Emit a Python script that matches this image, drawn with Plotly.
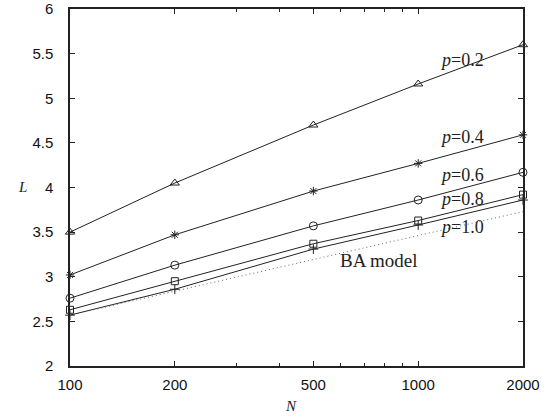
import plotly.graph_objects as go

N = [100, 200, 500, 1000, 2000]
L_p02 = [3.50, 4.05, 4.70, 5.16, 5.60]
L_p04 = [3.02, 3.47, 3.96, 4.27, 4.59]
L_p06 = [2.76, 3.13, 3.57, 3.86, 4.17]
L_p08 = [2.63, 2.95, 3.37, 3.63, 3.92]
L_p10 = [2.57, 2.86, 3.31, 3.58, 3.86]
L_BA = [2.57, 2.84, 3.19, 3.46, 3.73]

series = [
    ("p=0.2", L_p02, "triangle-up-open", 8),
    ("p=0.4", L_p04, "asterisk-open", 7),
    ("p=0.6", L_p06, "circle-open", 8),
    ("p=0.8", L_p08, "square-open", 7),
    ("p=1.0", L_p10, "cross-thin-open", 7),
]
label_y = [5.43, 4.57, 4.14, 3.87, 3.56]
x_ticks = [100, 200, 500, 1000, 2000]
y_ticks = [2, 2.5, 3, 3.5, 4, 4.5, 5, 5.5, 6]

fig = go.Figure()
for name, ys, sym, sz in series:
    fig.add_trace(go.Scatter(
        x=N, y=ys, mode="lines+markers", name=name,
        line=dict(color="#222", width=1),
        marker=dict(symbol=sym, size=sz, color="#222", line=dict(width=1, color="#222")),
        cliponaxis=False, showlegend=False))
fig.add_trace(go.Scatter(
    x=N, y=L_BA, mode="lines", name="BA model",
    line=dict(color="#666", width=1, dash="1px,3px"), showlegend=False))

serif = "Liberation Serif, Times New Roman, serif"
for (name, ys, sym, sz), ly in zip(series, label_y):
    fig.add_annotation(x=3.056, y=ly, xref="x", yref="y",
                       text="<i>p</i>=" + name.split("=")[1], showarrow=False,
                       xanchor="left", yanchor="middle",
                       font=dict(family=serif, size=18, color="#222"))
fig.add_annotation(x=2.769, y=3.18, xref="x", yref="y", text="BA model", showarrow=False,
                   xanchor="left", yanchor="middle", font=dict(family=serif, size=19, color="#222"))
fig.add_annotation(x=-0.12, y=0.502, xref="paper", yref="paper", text="<i>L</i>",
                   showarrow=False, font=dict(family=serif, size=15, color="#222"))
fig.add_annotation(x=0.488, y=-0.113, xref="paper", yref="paper", text="<i>N</i>",
                   showarrow=False, yanchor="middle", font=dict(family=serif, size=15, color="#222"))

axis_common = dict(showgrid=False, zeroline=False, showline=True, linecolor="#222",
                   linewidth=1.5, mirror="allticks", ticks="inside", ticklen=5,
                   tickcolor="#222", automargin=False,
                   tickfont=dict(family="Liberation Sans, Arial", size=15, color="#111"))
fig.update_xaxes(type="log", range=[2, 3.30103], tickvals=x_ticks,
                 ticktext=[str(v) for v in x_ticks], ticklabelstandoff=4,
                 minor=dict(tickvals=[300, 400, 600, 700, 800, 900], ticks="inside",
                            ticklen=3, tickcolor="#222"),
                 **axis_common)
fig.update_yaxes(range=[2, 6], tickvals=y_ticks, ticktext=[f"{v:g}" for v in y_ticks],
                 ticklabelstandoff=12, **axis_common)
fig.update_layout(width=555, height=418, margin=dict(l=70, r=32, t=9, b=52),
                  plot_bgcolor="white", paper_bgcolor="white")
fig.write_html("out.html")
